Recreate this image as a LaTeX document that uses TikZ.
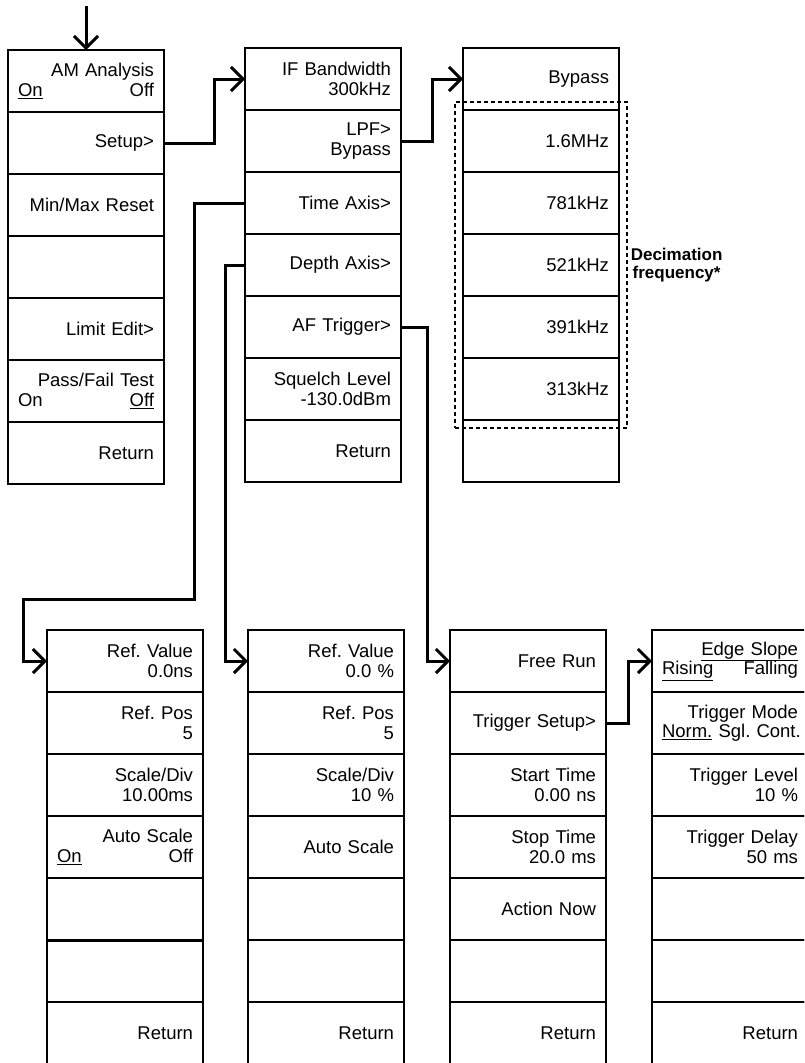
\documentclass[tikz,border=0pt]{standalone}
\usepackage{fontspec}
\setmainfont{Liberation Sans}
\usepackage{tikz}
\usetikzlibrary{arrows.meta, positioning, fit}
\newcommand{\onoff}[2]{#1\hspace{0pt plus 1filll}#2}

\begin{document}
\begin{tikzpicture}[x=1pt, y=-1pt,
    cell/.style={draw, line width=1.3pt, outer sep=0pt, minimum height=62pt, text width=136pt, inner xsep=10pt, inner ysep=2pt, align=right, font=\fontsize{18.5}{19.5}\selectfont\frenchspacing},
    conn/.style={line width=3pt, -{Straight Barb[length=12pt, width=24pt]}}]
    \path[use as bounding box, clip] (0,0) rectangle (804,1063);

    \node[cell, anchor=north west] (am1) at (8,50) {AM Analysis\\\onoff{\underline{On}}{Off}};
    \node[cell, below=0pt of am1] (am2) {Setup>};
    \node[cell, below=0pt of am2] (am3) {Min/Max Reset};
    \node[cell, below=0pt of am3] (am4) {};
    \node[cell, below=0pt of am4] (am5) {Limit Edit>};
    \node[cell, below=0pt of am5] (am6) {Pass/Fail Test\\\onoff{On}{\underline{Off}}};
    \node[cell, below=0pt of am6] (am7) {Return};

    \node[cell, anchor=north west] (su1) at (245,48) {IF Bandwidth\\300kHz};
    \node[cell, below=0pt of su1] (su2) {LPF>\\Bypass};
    \node[cell, below=0pt of su2] (su3) {Time Axis>};
    \node[cell, below=0pt of su3] (su4) {Depth Axis>};
    \node[cell, below=0pt of su4] (su5) {AF Trigger>};
    \node[cell, below=0pt of su5] (su6) {Squelch Level\\-130.0dBm};
    \node[cell, below=0pt of su6] (su7) {Return};

    \node[cell, anchor=north west] (lp1) at (463,48) {Bypass};
    \node[cell, below=0pt of lp1] (lp2) {1.6MHz};
    \node[cell, below=0pt of lp2] (lp3) {781kHz};
    \node[cell, below=0pt of lp3] (lp4) {521kHz};
    \node[cell, below=0pt of lp4] (lp5) {391kHz};
    \node[cell, below=0pt of lp5] (lp6) {313kHz};
    \node[cell, below=0pt of lp6] (lp7) {};
    \node[draw, line width=1.2pt, dash pattern=on 4pt off 3pt, inner sep=8pt, fit=(lp2)(lp6)] (dec) {};
    \node[right=3pt of dec, inner sep=0pt, align=center, font=\bfseries\fontsize{17}{18.5}\selectfont] (declabel) {Decimation\\frequency*};

    \node[cell, anchor=north west] (ta1) at (47,630) {Ref. Value\\0.0ns};
    \node[cell, below=0pt of ta1] (ta2) {Ref. Pos\\5};
    \node[cell, below=0pt of ta2] (ta3) {Scale/Div\\10.00ms};
    \node[cell, below=0pt of ta3] (ta4) {Auto Scale\\\onoff{\underline{On}}{Off}};
    \node[cell, below=0pt of ta4] (ta5) {};
    \node[cell, below=0pt of ta5] (ta6) {};
    \node[cell, below=0pt of ta6] (ta7) {Return};
    \draw[line width=3pt] (ta5.south west) -- (ta5.south east);

    \node[cell, anchor=north west] (da1) at (248,630) {Ref. Value\\0.0 \%};
    \node[cell, below=0pt of da1] (da2) {Ref. Pos\\5};
    \node[cell, below=0pt of da2] (da3) {Scale/Div\\10 \%};
    \node[cell, below=0pt of da3] (da4) {Auto Scale};
    \node[cell, below=0pt of da4] (da5) {};
    \node[cell, below=0pt of da5] (da6) {};
    \node[cell, below=0pt of da6] (da7) {Return};

    \node[cell, anchor=north west] (tg1) at (450,630) {Free Run};
    \node[cell, below=0pt of tg1] (tg2) {Trigger Setup>};
    \node[cell, below=0pt of tg2] (tg3) {Start Time\\0.00 ns};
    \node[cell, below=0pt of tg3] (tg4) {Stop Time\\20.0 ms};
    \node[cell, below=0pt of tg4] (tg5) {Action Now};
    \node[cell, below=0pt of tg5] (tg6) {};
    \node[cell, below=0pt of tg6] (tg7) {Return};

    \node[cell, anchor=north west] (ts1) at (652,630) {\underline{Edge Slope}\\\onoff{\underline{Rising}}{Falling}};
    \node[cell, below=0pt of ts1] (ts2) {Trigger Mode\\\mbox{\underline{Norm.} Sgl. Cont.}};
    \node[cell, below=0pt of ts2] (ts3) {Trigger Level\\10 \%};
    \node[cell, below=0pt of ts3] (ts4) {Trigger Delay\\50 ms};
    \node[cell, below=0pt of ts4] (ts5) {};
    \node[cell, below=0pt of ts5] (ts6) {};
    \node[cell, below=0pt of ts6] (ts7) {Return};

    \coordinate (in) at (86,6);
    \draw[conn] (in) -- (am1.north);
    \draw[conn] (am2.east) -- ++(50,0) |- (su1.west);
    \draw[conn] (su2.east) -- ++(31,0) |- (lp1.west);
    \draw[conn] (su3.west) -- ++(-51,0) -- ++(0,396) -- ++(-171,0) |- (ta1.west);
    \draw[conn] (su4.west) -- ++(-20,0) |- (da1.west);
    \draw[conn] (su5.east) -- ++(26,0) |- (tg1.west);
    \draw[conn] (tg2.east) -- ++(22,0) |- (ts1.west);
\end{tikzpicture}
\end{document}
